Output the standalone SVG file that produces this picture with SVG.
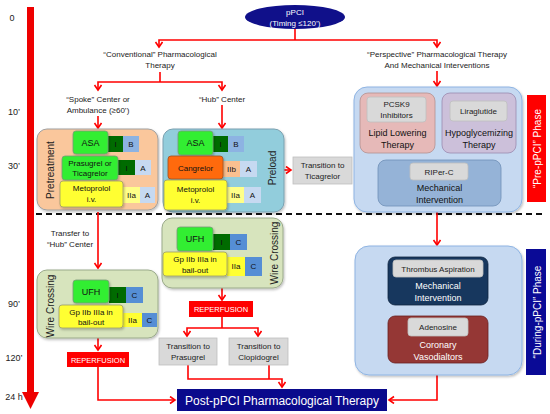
<svg xmlns="http://www.w3.org/2000/svg" width="550" height="414" viewBox="0 0 550 414">
<defs>
<style>
text{font-family:"Liberation Sans",Arial,sans-serif}
.lbl{font-size:8px;fill:#222;text-anchor:middle}
.bx{font-size:9px;fill:#111;text-anchor:middle}
.sm{font-size:8px;fill:#111;text-anchor:middle}
.wt{fill:#fff;text-anchor:middle}
.con{stroke:#ff0000;stroke-width:1.6;fill:none}
.grn{fill:#33ee33;stroke:#7a9a7a;stroke-width:0.8}
.yel{fill:#ffff33;stroke:#9a9a6a;stroke-width:0.8}
.gry{fill:#d9d9d9;stroke:#bfbfbf;stroke-width:0.8}
.gI{fill:#006b00}
.gB{fill:#8db3e2}
.gA{fill:#c6d9f1}
.gC{fill:#558ed5}
.gIIa{fill:#ffff88}
.gIIb{fill:#fac090}
</style>
<marker id="ah" markerWidth="10" markerHeight="10" refX="6" refY="4" orient="auto-start-reverse" markerUnits="userSpaceOnUse">
<path d="M1,0.5 L6,4 L1,7.5" fill="none" stroke="#ff0000" stroke-width="1.6"/>
</marker>
<filter id="sh" x="-10%" y="-10%" width="130%" height="130%">
<feDropShadow dx="1" dy="1.5" stdDeviation="1" flood-color="#000" flood-opacity="0.25"/>
</filter>
</defs>
<rect width="550" height="414" fill="#fff"/>

<!-- timeline -->
<g id="timeline">
<rect x="27" y="7" width="7" height="388" fill="#ee0000"/>
<polygon points="22,392 39,392 30.5,409" fill="#ee0000"/>
<text x="12" y="21" font-size="9" text-anchor="middle" fill="#222">0</text>
<text x="14" y="115" font-size="9" text-anchor="middle" fill="#222">10’</text>
<text x="14" y="169" font-size="9" text-anchor="middle" fill="#222">30’</text>
<text x="14" y="307" font-size="9" text-anchor="middle" fill="#222">90’</text>
<text x="14" y="361" font-size="9" text-anchor="middle" fill="#222">120’</text>
<text x="14" y="400" font-size="9" text-anchor="middle" fill="#222">24 h</text>
</g>

<!-- dashed separator -->
<line x1="36" y1="214" x2="546" y2="214" stroke="#111" stroke-width="2" stroke-dasharray="6,4"/>

<!-- connectors -->
<g id="connectors">
<path class="con" d="M295,29 V40"/>
<path class="con" d="M159,47 V40 H437 V47" marker-start="url(#ah)" marker-end="url(#ah)"/>
<path class="con" d="M160,72 V82"/>
<path class="con" d="M98,90 V82 H222 V90" marker-start="url(#ah)" marker-end="url(#ah)"/>
<path class="con" d="M98,116 V128" marker-end="url(#ah)"/>
<path class="con" d="M222,105 V128" marker-end="url(#ah)"/>
<path class="con" d="M437,71 V86" marker-end="url(#ah)"/>
<path class="con" d="M284,170 H291" marker-end="url(#ah)"/>
<path class="con" d="M98,212 V268" marker-end="url(#ah)"/>
<path class="con" d="M98,338 V350" marker-end="url(#ah)"/>
<path class="con" d="M98,367 V400 H175" marker-end="url(#ah)"/>
<path class="con" d="M222,288 V300" marker-end="url(#ah)"/>
<path class="con" d="M222,317 V328"/>
<path class="con" d="M187,336 V328 H258 V336" marker-start="url(#ah)" marker-end="url(#ah)"/>
<path class="con" d="M188,365 V379 H282 V387" marker-end="url(#ah)"/>
<path class="con" d="M269,365 V379"/>
<path class="con" d="M437,212 V245" marker-end="url(#ah)"/>
<path class="con" d="M437,375 V400 H389" marker-end="url(#ah)"/>
</g>

<!-- top node -->
<g id="pPCI">
<ellipse cx="295" cy="17" rx="50" ry="12" fill="#10108a"/>
<text class="wt" x="295" y="15" font-size="8">pPCI</text>
<text class="wt" x="295" y="25.5" font-size="8">(Timing ≤120’)</text>
</g>

<g id="label-conventional">
<text class="lbl" x="160" y="57">“Conventional” Pharmacological</text>
<text class="lbl" x="160" y="68">Therapy</text>
</g>
<g id="label-perspective">
<text class="lbl" x="437" y="57">“Perspective” Pharmacological Therapy</text>
<text class="lbl" x="437" y="68">And Mechanical Interventions</text>
</g>
<g id="label-spoke">
<text class="lbl" x="98" y="102">“Spoke” Center or</text>
<text class="lbl" x="98" y="113">Ambulance (≥60’)</text>
</g>
<g id="label-hub">
<text class="lbl" x="222" y="102">“Hub” Center</text>
</g>
<g id="label-transfer">
<text class="lbl" x="70" y="236">Transfer to</text>
<text class="lbl" x="70" y="247">“Hub” Center</text>
</g>

<!-- Pretreatment -->
<g id="pretreatment">
<rect x="37" y="129" width="121" height="81" rx="10" fill="#fac79c" stroke="#a0a0a0" stroke-width="1" filter="url(#sh)"/>
<text x="54" y="170" font-size="10" fill="#222" text-anchor="middle" transform="rotate(-90 54 170)">Pretreatment</text>
<rect class="gI" x="108" y="136" width="15" height="16"/><text class="sm" x="115.5" y="147">I</text>
<rect class="gB" x="123" y="136" width="16" height="16"/><text class="sm" x="131" y="147">B</text>
<rect class="grn" x="73" y="131" width="35" height="23" rx="3" filter="url(#sh)"/><text class="bx" x="90.5" y="146">ASA</text>
<rect class="gI" x="118" y="160" width="17" height="15"/><text class="sm" x="126.5" y="171">I</text>
<rect class="gA" x="135" y="160" width="16" height="15"/><text class="sm" x="143" y="171">A</text>
<rect class="grn" x="62" y="156" width="56" height="24" rx="3" filter="url(#sh)"/>
<text class="sm" x="90" y="166">Prasugrel or</text><text class="sm" x="90" y="176">Ticagrelor</text>
<rect class="gIIa" x="123" y="187" width="17" height="16"/><text class="sm" x="131.5" y="198">IIa</text>
<rect class="gA" x="140" y="187" width="15" height="16"/><text class="sm" x="147.5" y="198">A</text>
<rect class="yel" x="60" y="181" width="63" height="26" rx="3" filter="url(#sh)"/>
<text class="sm" x="91.5" y="191">Metoprolol</text><text class="sm" x="91.5" y="202">i.v.</text>
</g>

<!-- Preload -->
<g id="preload">
<rect x="163" y="129" width="121" height="83" rx="10" fill="#92cddc" stroke="#7aa0b0" stroke-width="1" filter="url(#sh)"/>
<text x="276" y="168" font-size="10" fill="#222" text-anchor="middle" transform="rotate(-90 276 168)">Preload</text>
<rect class="gI" x="213" y="136" width="15" height="16"/><text class="sm" x="220.5" y="147">I</text>
<rect class="gB" x="228" y="136" width="16" height="16"/><text class="sm" x="236" y="147">B</text>
<rect class="grn" x="178" y="131" width="35" height="24" rx="3" filter="url(#sh)"/><text class="bx" x="195.5" y="146">ASA</text>
<rect class="gIIb" x="223" y="161" width="17" height="16"/><text class="sm" x="231.5" y="172">IIb</text>
<rect class="gA" x="240" y="161" width="17" height="16"/><text class="sm" x="248.5" y="172">A</text>
<rect x="168" y="156" width="55" height="23" rx="3" fill="#ff6a10" stroke="#a05020" stroke-width="0.8" filter="url(#sh)"/>
<text class="sm" x="195.5" y="170.5">Cangrelor</text>
<rect class="gIIa" x="227" y="187" width="17" height="16"/><text class="sm" x="235.5" y="198">IIa</text>
<rect class="gA" x="244" y="187" width="17" height="16"/><text class="sm" x="252.5" y="198">A</text>
<rect class="yel" x="164" y="180" width="63" height="30" rx="3" filter="url(#sh)"/>
<text class="sm" x="195.5" y="192">Metoprolol</text><text class="sm" x="195.5" y="203">i.v.</text>
</g>

<g id="transition-ticagrelor">
<rect class="gry" x="293" y="157" width="59" height="27"/>
<text class="lbl" x="322.5" y="168">Transition to</text>
<text class="lbl" x="322.5" y="179">Ticagrelor</text>
</g>

<!-- Perspective pre-pPCI -->
<g id="perspective-pre">
<rect x="354" y="87" width="168" height="125" rx="13" fill="#c6d9f1" stroke="#8eb4e3" stroke-width="1" filter="url(#sh)"/>
<rect x="360" y="93" width="75" height="60" rx="8" fill="#e6b9b8" stroke="#b39090" stroke-width="0.8"/>
<rect class="gry" x="367" y="97" width="59" height="25" rx="3"/>
<text class="lbl" x="396.5" y="107">PCSK9</text>
<text class="lbl" x="396.5" y="118">Inhibitors</text>
<text class="bx" x="397.5" y="136">Lipid Lowering</text>
<text class="bx" x="397.5" y="148">Therapy</text>
<rect x="442" y="93" width="74" height="60" rx="8" fill="#ccc0da" stroke="#9a8ab0" stroke-width="0.8"/>
<rect class="gry" x="450" y="101" width="57" height="20" rx="3"/>
<text class="lbl" x="478.5" y="114">Liraglutide</text>
<text class="bx" x="479" y="136">Hypoglycemizing</text>
<text class="bx" x="479" y="148">Therapy</text>
<rect x="378" y="160" width="123" height="46" rx="8" fill="#95b3d7" stroke="#7090b8" stroke-width="0.8"/>
<rect class="gry" x="410" y="163" width="58" height="17" rx="3"/>
<text class="lbl" x="439" y="174.5">RIPer-C</text>
<text class="bx" x="439.5" y="191">Mechanical</text>
<text class="bx" x="439.5" y="203">Intervention</text>
</g>

<g id="phase-pre">
<rect x="527" y="95" width="19" height="107" fill="#ff0000"/>
<text class="wt" x="541" y="148.5" font-size="10" transform="rotate(-90 541 148.5)">“Pre-pPCI” Phase</text>
</g>

<!-- Wire crossing left -->
<g id="wire-left">
<rect x="37" y="270" width="121" height="68" rx="10" fill="#d7e4bd" stroke="#9aaa8a" stroke-width="1" filter="url(#sh)"/>
<text x="54" y="306" font-size="10" fill="#222" text-anchor="middle" transform="rotate(-90 54 306)">Wire Crossing</text>
<rect class="gI" x="109" y="287" width="17" height="16"/><text class="sm" x="117.5" y="298">I</text>
<rect class="gC" x="126" y="287" width="17" height="16"/><text class="sm" x="134.5" y="298">C</text>
<rect class="grn" x="73" y="280" width="36" height="23" rx="3" filter="url(#sh)"/><text class="bx" x="91" y="295">UFH</text>
<rect x="123" y="313" width="19" height="14" fill="#ffff33"/><text class="sm" x="132.5" y="323">IIa</text>
<rect class="gC" x="142" y="313" width="15" height="14"/><text class="sm" x="149.5" y="323">C</text>
<rect class="yel" x="59" y="305" width="64" height="23" rx="3" filter="url(#sh)"/>
<text class="sm" x="91" y="314.5">Gp IIb IIIa in</text><text class="sm" x="91" y="325">bail-out</text>
</g>

<g id="reperfusion-left">
<rect x="67" y="352" width="62" height="15" fill="#ff0000"/>
<text class="wt" x="98" y="362.5" font-size="7.5">REPERFUSION</text>
</g>

<!-- Wire crossing center -->
<g id="wire-center">
<rect x="162" y="218" width="121" height="70" rx="10" fill="#d7e4bd" stroke="#9aaa8a" stroke-width="1" filter="url(#sh)"/>
<text x="278" y="253" font-size="10" fill="#222" text-anchor="middle" transform="rotate(-90 278 253)">Wire Crossing</text>
<rect class="gI" x="213" y="234" width="17" height="16"/><text class="sm" x="221.5" y="245">I</text>
<rect class="gC" x="230" y="234" width="17" height="16"/><text class="sm" x="238.5" y="245">C</text>
<rect class="grn" x="177" y="227" width="36" height="24" rx="3" filter="url(#sh)"/><text class="bx" x="195" y="242">UFH</text>
<rect x="227" y="257" width="18" height="19" fill="#ffff33"/><text class="sm" x="236" y="269">IIa</text>
<rect class="gC" x="245" y="257" width="17" height="19"/><text class="sm" x="253.5" y="269">C</text>
<rect class="yel" x="163" y="252" width="64" height="24" rx="3" filter="url(#sh)"/>
<text class="sm" x="195" y="262">Gp IIb IIIa in</text><text class="sm" x="195" y="272.5">bail-out</text>
</g>

<g id="reperfusion-center">
<rect x="189" y="301" width="64" height="16" fill="#ff0000"/>
<text class="wt" x="221" y="312" font-size="7.5">REPERFUSION</text>
</g>

<g id="transition-prasugrel">
<rect class="gry" x="159" y="338" width="58" height="27"/>
<text class="lbl" x="188" y="349">Transition to</text>
<text class="lbl" x="188" y="360">Prasugrel</text>
</g>
<g id="transition-clopidogrel">
<rect class="gry" x="229" y="338" width="59" height="27"/>
<text class="lbl" x="258.5" y="349">Transition to</text>
<text class="lbl" x="258.5" y="360">Clopidogrel</text>
</g>

<!-- During pPCI -->
<g id="perspective-during">
<rect x="355" y="246" width="167" height="129" rx="14" fill="#c6d9f1" stroke="#8eb4e3" stroke-width="1" filter="url(#sh)"/>
<rect x="388" y="257" width="100" height="48" rx="7" fill="#17375e" stroke="#0f2540" stroke-width="0.8"/>
<rect class="gry" x="393" y="260" width="90" height="17" rx="3"/>
<text class="lbl" x="438" y="271.5">Thrombus Aspiration</text>
<text class="wt" x="438" y="289" font-size="9">Mechanical</text>
<text class="wt" x="438" y="301" font-size="9">Intervention</text>
<rect x="388" y="316" width="100" height="47" rx="7" fill="#953735" stroke="#6a2020" stroke-width="0.8"/>
<rect class="gry" x="408" y="318" width="60" height="18" rx="3"/>
<text class="lbl" x="438" y="330">Adenosine</text>
<text class="wt" x="438" y="348" font-size="9">Coronary</text>
<text class="wt" x="438" y="360" font-size="9">Vasodialtors</text>
</g>

<g id="phase-during">
<rect x="526" y="249" width="20" height="126" fill="#0a0a96"/>
<text class="wt" x="541" y="312" font-size="10" transform="rotate(-90 541 312)">“During-pPCI” Phase</text>
</g>

<g id="post-pPCI">
<rect x="177" y="389" width="210" height="22" fill="#0a0a8c"/>
<text class="wt" x="282" y="404.5" font-size="12">Post-pPCI Pharmacological Therapy</text>
</g>
</svg>
